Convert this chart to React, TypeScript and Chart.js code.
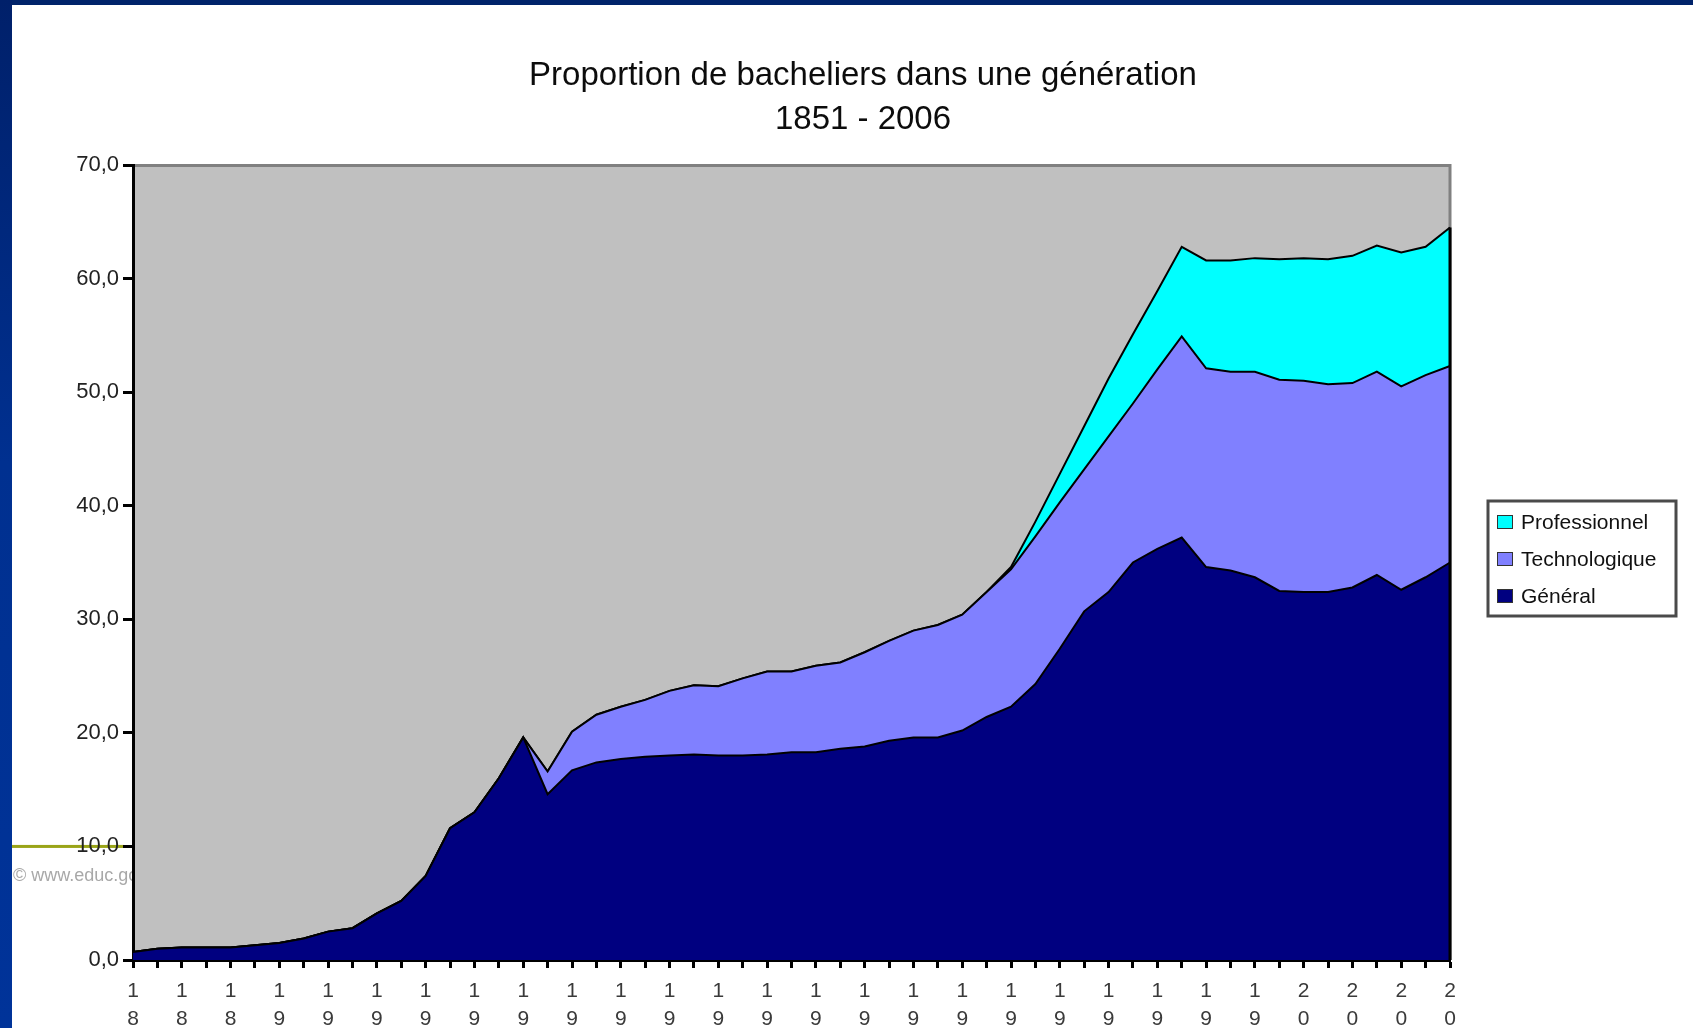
import React, { useEffect, useRef } from 'react';
import { Chart, registerables } from 'chart.js';

Chart.register(...registerables);

// ---------- data ----------
const years = [
  '1851', '1861', '1871', '1881', '1891', '1901', '1911', '1921', '1931', '1936',
  '1946', '1951', '1956', '1961', '1966', '1967', '1968', '1969', '1970', '1971',
  '1972', '1973', '1974', '1975', '1976', '1977', '1978', '1979', '1980', '1981',
  '1982', '1983', '1984', '1985', '1986', '1987', '1988', '1989', '1990', '1991',
  '1992', '1993', '1994', '1995', '1996', '1997', '1998', '1999', '2000', '2001',
  '2002', '2003', '2004', '2005', '2006',
];

const general = [
  0.7, 1.0, 1.1, 1.1, 1.1, 1.3, 1.5, 1.9, 2.5, 2.8,
  4.1, 5.2, 7.4, 11.6, 13.0, 16.0, 19.6, 14.6, 16.7, 17.4,
  17.7, 17.9, 18.0, 18.1, 18.0, 18.0, 18.1, 18.3, 18.3, 18.6,
  18.8, 19.3, 19.6, 19.6, 20.2, 21.4, 22.3, 24.3, 27.4, 30.7,
  32.4, 35.0, 36.2, 37.2, 34.6, 34.3, 33.7, 32.5, 32.4, 32.4,
  32.8, 33.9, 32.6, 33.7, 35.0,
];

const technologique = [
  0, 0, 0, 0, 0, 0, 0, 0, 0, 0,
  0, 0, 0, 0, 0, 0, 0, 2.0, 3.4, 4.2,
  4.6, 5.0, 5.7, 6.1, 6.1, 6.8, 7.3, 7.1, 7.6, 7.6,
  8.3, 8.8, 9.4, 9.9, 10.2, 11.0, 12.1, 13.0, 12.9, 12.5,
  13.7, 14.0, 15.8, 17.7, 17.5, 17.5, 18.1, 18.6, 18.6, 18.3,
  18.0, 17.9, 17.9, 17.8, 17.3,
];

const professionnel = [
  0, 0, 0, 0, 0, 0, 0, 0, 0, 0,
  0, 0, 0, 0, 0, 0, 0, 0, 0, 0,
  0, 0, 0, 0, 0, 0, 0, 0, 0, 0,
  0, 0, 0, 0, 0, 0, 0.2, 1.3, 2.5, 3.8,
  5.1, 6.1, 6.9, 7.9, 9.5, 9.8, 10.0, 10.6, 10.8, 11.0,
  11.2, 11.1, 11.8, 11.3, 12.2,
];

const seriesNames = ['Général', 'Technologique', 'Professionnel'];
const seriesColors = ['#000080', '#8080FF', '#00FFFF'];
const titleLines = ['Proportion de bacheliers dans une génération', '1851 - 2006'];
const copyrightText = '© www.educ.gouv.fr';

// ---------- layout constants ----------
const PAGE_W = 1693;
const PAGE_H = 1028;
const CANVAS_H = 1100;
const FONT = '"Liberation Sans", Arial, Helvetica, sans-serif';

const decorPlugin = {
  id: 'decor',
  beforeDraw(chart: any) {
    const { ctx, chartArea } = chart;
    const yScale = chart.scales.y;
    ctx.save();
    ctx.fillStyle = '#ffffff';
    ctx.fillRect(0, 0, chart.width, chart.height);
    // slide frame
    ctx.fillStyle = '#00236a';
    ctx.fillRect(0, 0, chart.width, 5);
    const g = ctx.createLinearGradient(0, 0, 0, PAGE_H);
    g.addColorStop(0, '#00206a');
    g.addColorStop(0.45, '#003090');
    g.addColorStop(1, '#003399');
    ctx.fillStyle = g;
    ctx.fillRect(0, 0, 12, chart.height);
    // olive rule
    const y10 = yScale.getPixelForValue(10);
    ctx.fillStyle = '#9aa418';
    ctx.fillRect(12, y10 - 1.5, 112, 3);
    // copyright (hidden partly under the plot)
    ctx.fillStyle = '#a8a8a8';
    ctx.font = `18px ${FONT}`;
    ctx.textBaseline = 'middle';
    ctx.textAlign = 'left';
    ctx.fillText(copyrightText, 13, y10 + 30);
    // plot background
    ctx.fillStyle = '#C0C0C0';
    ctx.fillRect(chartArea.left, chartArea.top, chartArea.right - chartArea.left, chartArea.bottom - chartArea.top);
    // plot frame (top & right)
    ctx.strokeStyle = '#808080';
    ctx.lineWidth = 3;
    ctx.beginPath();
    ctx.moveTo(chartArea.left, chartArea.top + 0.5);
    ctx.lineTo(chartArea.right, chartArea.top + 0.5);
    ctx.lineTo(chartArea.right, chartArea.bottom);
    ctx.stroke();
    ctx.restore();
  },
  afterDatasetsDraw(chart: any) {
    const { ctx } = chart;
    const x = chart.scales.x.getPixelForValue(years.length - 1);
    const last = years.length - 1;
    const total = general[last] + technologique[last] + professionnel[last];
    const yTop = chart.scales.y.getPixelForValue(total);
    const yBot = chart.scales.y.getPixelForValue(0);
    ctx.save();
    ctx.strokeStyle = '#000';
    ctx.lineWidth = 3;
    ctx.beginPath();
    ctx.moveTo(x, yTop);
    ctx.lineTo(x, yBot);
    ctx.stroke();
    ctx.restore();
  },
  afterDraw(chart: any) {
    const { ctx } = chart;
    ctx.save();
    // title
    ctx.fillStyle = '#0c0c0c';
    ctx.font = `33px ${FONT}`;
    ctx.textAlign = 'center';
    ctx.textBaseline = 'alphabetic';
    ctx.fillText(titleLines[0], 863, 85);
    ctx.fillText(titleLines[1], 863, 129);
    // legend
    const bx = 1488, by = 501, bw = 188, bh = 115;
    ctx.fillStyle = '#ffffff';
    ctx.fillRect(bx, by, bw, bh);
    ctx.strokeStyle = '#4a4a4a';
    ctx.lineWidth = 3;
    ctx.strokeRect(bx, by, bw, bh);
    const order = [2, 1, 0];
    ctx.font = `21px ${FONT}`;
    ctx.textAlign = 'left';
    ctx.textBaseline = 'middle';
    order.forEach((si, i) => {
      const cy = 522 + i * 37;
      ctx.fillStyle = seriesColors[si];
      ctx.fillRect(1497, cy - 7, 16, 14);
      ctx.strokeStyle = '#333';
      ctx.lineWidth = 1;
      ctx.strokeRect(1497.5, cy - 6.5, 15, 13);
      ctx.fillStyle = '#111';
      ctx.fillText(seriesNames[si], 1521, cy + 1);
    });
    ctx.restore();
  },
};

export default function App() {
  const canvasRef = useRef<HTMLCanvasElement | null>(null);

  useEffect(() => {
    const canvas = canvasRef.current;
    if (!canvas) return;
    const chart = new Chart(canvas, {
      type: 'line',
      data: {
        labels: years,
        datasets: [
          {
            label: seriesNames[0],
            data: general,
            backgroundColor: seriesColors[0],
            borderColor: '#000',
            borderWidth: 2,
            fill: 'origin',
            pointRadius: 0,
            tension: 0,
          },
          {
            label: seriesNames[1],
            data: technologique,
            backgroundColor: seriesColors[1],
            borderColor: '#000',
            borderWidth: 2,
            fill: '-1',
            pointRadius: 0,
            tension: 0,
          },
          {
            label: seriesNames[2],
            data: professionnel,
            backgroundColor: seriesColors[2],
            borderColor: '#000',
            borderWidth: 2,
            fill: '-1',
            pointRadius: 0,
            tension: 0,
          },
        ],
      },
      options: {
        responsive: false,
        animation: false,
        devicePixelRatio: 1,
        layout: { padding: { top: 165, right: 243, bottom: 0, left: 0 } },
        plugins: {
          legend: { display: false },
          title: { display: false },
          tooltip: { enabled: false },
        },
        scales: {
          x: {
            offset: false,
            grid: {
              drawOnChartArea: false,
              drawTicks: true,
              tickLength: 8,
              tickWidth: 3,
              tickColor: '#000',
            },
            border: { display: true, color: '#000', width: 3 },
            ticks: {
              autoSkip: false,
              maxRotation: 0,
              minRotation: 0,
              padding: 9,
              color: '#3a3a3a',
              font: { family: FONT, size: 21, lineHeight: 1.33 },
              callback: (_v: any, i: number) => (i % 2 === 0 ? years[i].split('') : ''),
            },
            afterFit: (s: any) => {
              s.height = CANVAS_H - 960;
            },
          },
          y: {
            stacked: true,
            min: 0,
            max: 70,
            grid: {
              drawOnChartArea: false,
              drawTicks: true,
              tickLength: 10,
              tickWidth: 3,
              tickColor: '#000',
            },
            border: { display: true, color: '#000', width: 3 },
            ticks: {
              stepSize: 10,
              padding: 4,
              color: '#222',
              font: { family: FONT, size: 22 },
              callback: (v: any) => Number(v).toFixed(1).replace('.', ','),
            },
            afterFit: (s: any) => {
              s.width = 133;
            },
          },
        },
      },
      plugins: [decorPlugin],
    });
    return () => chart.destroy();
  }, []);

  return (
    <div
      style={{
        position: 'fixed',
        left: 0,
        top: 0,
        width: PAGE_W,
        height: PAGE_H,
        overflow: 'hidden',
        background: '#fff',
      }}
    >
      <canvas
        ref={canvasRef}
        width={PAGE_W}
        height={CANVAS_H}
        style={{ display: 'block', width: PAGE_W, height: CANVAS_H }}
      />
    </div>
  );
}
